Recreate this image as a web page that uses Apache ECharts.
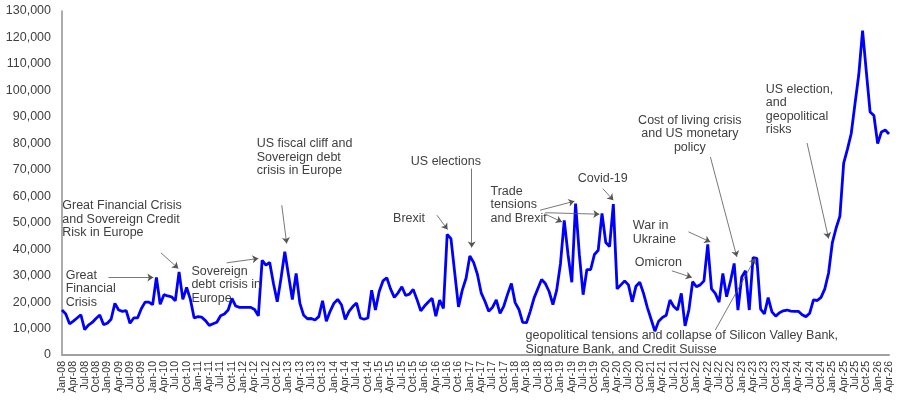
<!DOCTYPE html>
<html>
<head>
<meta charset="utf-8">
<script src="https://cdn.jsdelivr.net/npm/echarts@6/dist/echarts.min.js"></script>
<style>
  html, body { margin: 0; padding: 0; background: #fff; }
  #chart { width: 898px; height: 402px; }
</style>
</head>
<body>
<div id="chart"></div>
<script>
// monthly categories Jan-08 .. Apr-26
const monthNames = ['Jan', 'Feb', 'Mar', 'Apr', 'May', 'Jun', 'Jul', 'Aug', 'Sep', 'Oct', 'Nov', 'Dec'];
const categories = [];
for (let y = 2008; y <= 2026; y++) {
  for (let m = 0; m < 12; m++) {
    if (y === 2026 && m > 3) break;
    categories.push(monthNames[m] + '-' + String(y).slice(2));
  }
}

// monthly values
const values = [
  17000, 15500, 11800, 12800, 14000, 15200, 9600, 11300, 12300, 13800,
  15100, 11500, 12000, 13500, 19500, 17000, 16500, 16800, 12000, 14000,
  14000, 17500, 20000, 20000, 19000, 29300, 19200, 22800, 22300, 22000,
  20500, 31400, 21000, 25500, 21000, 14000, 14500, 14300, 13000, 11200,
  11800, 12400, 14800, 15500, 17000, 21400, 18500, 18000, 18000, 18000,
  18000, 17200, 14800, 35800, 34000, 35000, 27000, 20100, 29000, 39000,
  30000, 21000, 30800, 19500, 15000, 13700, 13800, 13200, 14500, 20500,
  12800, 16500, 19500, 21000, 19000, 13500, 16500, 18300, 19600, 14000,
  13500, 14000, 24500, 17000, 24000, 28000, 29200, 25000, 21800, 23500,
  25800, 22500, 23000, 24800, 21000, 16700, 18500, 20000, 21400, 14700,
  20800, 17600, 45600, 44000, 31000, 18200, 24500, 29000, 37400, 35000,
  30500, 23500, 20300, 16500, 18000, 20800, 15700, 18500, 23000, 27000,
  19800, 17200, 12300, 12200, 16500, 21500, 25000, 28500, 27000, 24000,
  19000, 24500, 34500, 50900, 38000, 27500, 57200, 38000, 22800, 32300,
  32300, 38000, 39600, 53500, 42500, 41000, 57000, 25000, 26500, 28000,
  26500, 20100, 26000, 27500, 23300, 18000, 13500, 9000, 12800, 14200,
  15000, 20800, 18300, 17000, 23300, 11000, 17000, 27700, 25800, 26500,
  28000, 41800, 25000, 23300, 20000, 30800, 22000, 27700, 34600, 17000,
  29500, 31800, 17000, 36800, 36500, 17300, 15500, 21700, 16300, 14700,
  16000, 16700, 17000, 16600, 16500, 16500, 15200, 14500, 15800, 20800,
  20600, 21800, 25000, 31000, 42500, 48000, 52500, 72500, 77800, 83700,
  95000, 106000, 122600, 107000, 91800, 90500, 79900, 84300, 85000, 83500
];

// annotation texts: [text, month index, value, align]
const notes = [
  ['Great Financial Crisis\nand Sovereign Credit\nRisk in Europe', 0.2, 58750, 'left'],
  ['Great\nFinancial\nCrisis', 1.1, 32340, 'left'],
  ['Sovereign\ndebt crisis in\nEurope', 34.4, 33960, 'left'],
  ['US fiscal cliff and\nSovereign debt\ncrisis in Europe', 51.7, 82150, 'left'],
  ['Brexit', 87.8, 53740, 'left'],
  ['US elections', 92.5, 75470, 'left'],
  ['Trade\ntensions\nand Brexit', 113.6, 64150, 'left'],
  ['Covid-19', 136.7, 69200, 'left'],
  ['War in\nUkraine', 151.3, 51200, 'left'],
  ['Omicron', 151.8, 37360, 'left'],
  ['Cost of living crisis\nand US monetary\npolicy', 166.4, 90940, 'center'],
  ['US election,\nand\ngeopolitical\nrisks', 186.5, 102640, 'left'],
  ['geopolitical tensions and collapse of Silicon Valley Bank,\nSignature Bank, and Credit Suisse', 122.9, 9620, 'left']
];

// annotation arrows: [from index, from value, to index, to value]
const arrows = [
  [26.2, 38600, 30.8, 32720],
  [12.3, 29320, 24.2, 29320],
  [43.6, 34830, 52.0, 36490],
  [58.2, 56600, 59.5, 42150],
  [99.3, 52830, 102.1, 47430],
  [108.5, 70450, 108.5, 40640],
  [126.6, 54720, 135.7, 58110],
  [128.0, 53210, 132.4, 50300],
  [128.0, 53770, 142.3, 53210],
  [143.2, 62900, 146.0, 58490],
  [165.9, 46530, 171.7, 42750],
  [161.5, 31810, 166.8, 29320],
  [171.7, 74830, 178.7, 37090],
  [197.3, 80110, 203.0, 44040],
  [173.0, 9430, 183.6, 36600]
];

const chart = echarts.init(document.getElementById('chart'));
const textColor = '#404040';
const font = 'Liberation Sans, Arial, sans-serif';

const option = {
  animation: false,
  grid: { left: 62, right: 9, top: 11, bottom: 47, containLabel: false },
  xAxis: [
    {
      type: 'category',
      data: categories,
      boundaryGap: false,
      axisLine: { lineStyle: { color: '#a0a0a0', width: 2 } },
      axisTick: { show: false },
      axisLabel: {
        interval: 2,
        rotate: 90,
        fontFamily: font,
        fontSize: 10.5,
        color: '#333',
        margin: 6
      },
      splitLine: { show: false }
    },
    {
      // hidden linear axis for placing annotations between months
      type: 'value',
      min: 0,
      max: categories.length - 1,
      show: false
    }
  ],
  yAxis: {
    type: 'value',
    min: 0,
    max: 130000,
    interval: 10000,
    axisLine: { show: true, lineStyle: { color: '#909090', width: 1.5 } },
    axisTick: { show: false },
    splitLine: { show: false },
    axisLabel: {
      margin: 11,
      fontFamily: font,
      fontSize: 12.5,
      color: textColor,
      formatter: v => v.toLocaleString('en-US')
    }
  },
  series: [
    {
      type: 'line',
      data: values,
      showSymbol: false,
      lineStyle: { color: '#0000ff', width: 2.8 },
      itemStyle: { color: '#0000ff' }
    },
    {
      type: 'scatter',
      xAxisIndex: 1,
      data: [],
      silent: true,
      markLine: {
        silent: true,
        symbol: ['none', 'arrow'],
        symbolSize: 6,
        label: { show: false },
        lineStyle: { color: '#555', width: 0.8, type: 'solid' },
        emphasis: { disabled: true },
        data: arrows.map(a => [{ coord: [a[0], a[1]] }, { coord: [a[2], a[3]] }])
      },
      markPoint: {
        silent: true,
        symbol: 'rect',
        symbolSize: 1,
        itemStyle: { color: 'rgba(0,0,0,0)' },
        data: notes.map(n => ({
          coord: [n[1], n[2]],
          label: {
            show: true,
            position: [0, 0],
            align: n[3],
            verticalAlign: 'top',
            formatter: n[0],
            fontFamily: font,
            fontSize: 12.5,
            lineHeight: 13.4,
            color: textColor
          }
        }))
      }
    }
  ]
};

chart.setOption(option);
</script>
</body>
</html>
